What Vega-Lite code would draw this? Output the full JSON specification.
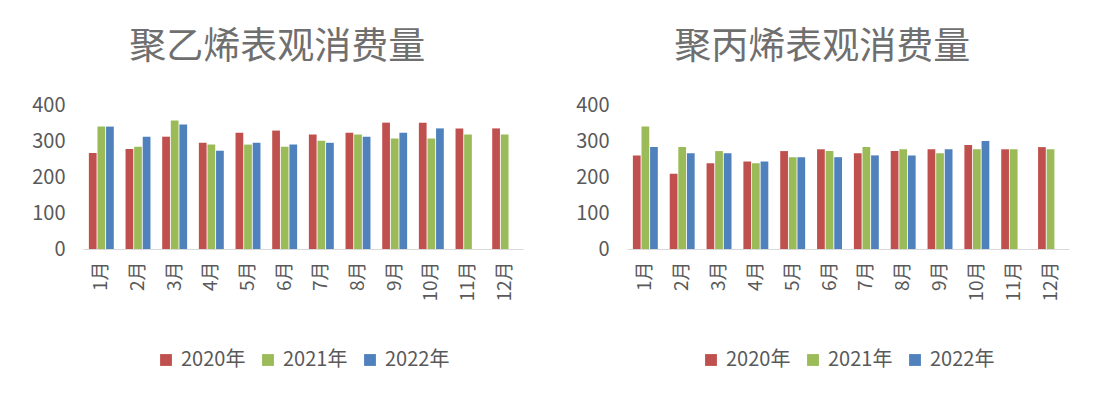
{
  "$schema": "https://vega.github.io/schema/vega-lite/v6.json",
  "padding": {"left": 31, "top": 29, "right": 5, "bottom": 5},
  "background": "white",
  "spacing": 52,
  "config": {
    "font": "Noto Sans CJK SC",
    "view": {"stroke": null},
    "axis": {"labelColor": "#595959", "labelFont": "Noto Sans CJK SC", "labelFontSize": 19, "ticks": false, "grid": false, "title": null},
    "title": {"font": "Noto Sans CJK SC", "fontSize": 37, "fontWeight": "normal", "color": "#6f6f6f", "frame": "bounds", "anchor": "middle", "offset": 28},
    "legend": {"layout": {"bottom": {"anchor": "middle"}}}
  },
  "data": {"values": [
    {"p": "PE", "m": "1月", "y": "2020年", "v": 267}, {"p": "PE", "m": "1月", "y": "2021年", "v": 340}, {"p": "PE", "m": "1月", "y": "2022年", "v": 340},
    {"p": "PE", "m": "2月", "y": "2020年", "v": 278}, {"p": "PE", "m": "2月", "y": "2021年", "v": 284}, {"p": "PE", "m": "2月", "y": "2022年", "v": 312},
    {"p": "PE", "m": "3月", "y": "2020年", "v": 312}, {"p": "PE", "m": "3月", "y": "2021年", "v": 357}, {"p": "PE", "m": "3月", "y": "2022年", "v": 346},
    {"p": "PE", "m": "4月", "y": "2020年", "v": 295}, {"p": "PE", "m": "4月", "y": "2021年", "v": 290}, {"p": "PE", "m": "4月", "y": "2022年", "v": 273},
    {"p": "PE", "m": "5月", "y": "2020年", "v": 323}, {"p": "PE", "m": "5月", "y": "2021年", "v": 290}, {"p": "PE", "m": "5月", "y": "2022年", "v": 295},
    {"p": "PE", "m": "6月", "y": "2020年", "v": 329}, {"p": "PE", "m": "6月", "y": "2021年", "v": 284}, {"p": "PE", "m": "6月", "y": "2022年", "v": 290},
    {"p": "PE", "m": "7月", "y": "2020年", "v": 318}, {"p": "PE", "m": "7月", "y": "2021年", "v": 301}, {"p": "PE", "m": "7月", "y": "2022年", "v": 295},
    {"p": "PE", "m": "8月", "y": "2020年", "v": 323}, {"p": "PE", "m": "8月", "y": "2021年", "v": 318}, {"p": "PE", "m": "8月", "y": "2022年", "v": 312},
    {"p": "PE", "m": "9月", "y": "2020年", "v": 351}, {"p": "PE", "m": "9月", "y": "2021年", "v": 307}, {"p": "PE", "m": "9月", "y": "2022年", "v": 323},
    {"p": "PE", "m": "10月", "y": "2020年", "v": 351}, {"p": "PE", "m": "10月", "y": "2021年", "v": 307}, {"p": "PE", "m": "10月", "y": "2022年", "v": 335},
    {"p": "PE", "m": "11月", "y": "2020年", "v": 335}, {"p": "PE", "m": "11月", "y": "2021年", "v": 318},
    {"p": "PE", "m": "12月", "y": "2020年", "v": 335}, {"p": "PE", "m": "12月", "y": "2021年", "v": 318},
    {"p": "PP", "m": "1月", "y": "2020年", "v": 260}, {"p": "PP", "m": "1月", "y": "2021年", "v": 340}, {"p": "PP", "m": "1月", "y": "2022年", "v": 283},
    {"p": "PP", "m": "2月", "y": "2020年", "v": 209}, {"p": "PP", "m": "2月", "y": "2021年", "v": 283}, {"p": "PP", "m": "2月", "y": "2022年", "v": 266},
    {"p": "PP", "m": "3月", "y": "2020年", "v": 238}, {"p": "PP", "m": "3月", "y": "2021年", "v": 272}, {"p": "PP", "m": "3月", "y": "2022年", "v": 266},
    {"p": "PP", "m": "4月", "y": "2020年", "v": 243}, {"p": "PP", "m": "4月", "y": "2021年", "v": 238}, {"p": "PP", "m": "4月", "y": "2022年", "v": 243},
    {"p": "PP", "m": "5月", "y": "2020年", "v": 272}, {"p": "PP", "m": "5月", "y": "2021年", "v": 255}, {"p": "PP", "m": "5月", "y": "2022年", "v": 255},
    {"p": "PP", "m": "6月", "y": "2020年", "v": 277}, {"p": "PP", "m": "6月", "y": "2021年", "v": 272}, {"p": "PP", "m": "6月", "y": "2022年", "v": 255},
    {"p": "PP", "m": "7月", "y": "2020年", "v": 266}, {"p": "PP", "m": "7月", "y": "2021年", "v": 283}, {"p": "PP", "m": "7月", "y": "2022年", "v": 260},
    {"p": "PP", "m": "8月", "y": "2020年", "v": 272}, {"p": "PP", "m": "8月", "y": "2021年", "v": 277}, {"p": "PP", "m": "8月", "y": "2022年", "v": 260},
    {"p": "PP", "m": "9月", "y": "2020年", "v": 277}, {"p": "PP", "m": "9月", "y": "2021年", "v": 266}, {"p": "PP", "m": "9月", "y": "2022年", "v": 277},
    {"p": "PP", "m": "10月", "y": "2020年", "v": 289}, {"p": "PP", "m": "10月", "y": "2021年", "v": 277}, {"p": "PP", "m": "10月", "y": "2022年", "v": 300},
    {"p": "PP", "m": "11月", "y": "2020年", "v": 277}, {"p": "PP", "m": "11月", "y": "2021年", "v": 277},
    {"p": "PP", "m": "12月", "y": "2020年", "v": 283}, {"p": "PP", "m": "12月", "y": "2021年", "v": 277}
  ]},
  "resolve": {"legend": {"color": "independent"}, "scale": {"color": "independent"}},
  "hconcat": [
    {
      "title": "聚乙烯表观消费量",
      "width": 440,
      "height": 144,
      "transform": [{"filter": "datum.p === 'PE'"}],
      "mark": {"type": "bar"},
      "encoding": {
        "x": {"field": "m", "type": "nominal", "sort": ["1月","2月","3月","4月","5月","6月","7月","8月","9月","10月","11月","12月"], "scale": {"paddingInner": 0.32, "paddingOuter": 0.16}, "axis": {"labelAngle": -90, "domainColor": "#d9d9d9", "labelPadding": 12}},
        "xOffset": {"field": "y", "type": "nominal", "scale": {"domain": ["2020年","2021年","2022年"], "paddingInner": 0.1}},
        "y": {"field": "v", "type": "quantitative", "scale": {"domain": [0, 400]}, "axis": {"values": [0,100,200,300,400], "domain": false, "labelPadding": 18, "labelFontSize": 20}},
        "color": {"field": "y", "type": "nominal", "scale": {"domain": ["2020年","2021年","2022年"], "range": ["#c0504d","#9bbb59","#4f81bd"]}, "legend": {"orient": "bottom", "direction": "horizontal", "title": null, "symbolType": "square", "symbolSize": 140, "labelFontSize": 20, "labelColor": "#595959", "columnPadding": 12, "labelOffset": 5, "offset": 48}}
      }
    },
    {
      "title": "聚丙烯表观消费量",
      "width": 442,
      "height": 144,
      "transform": [{"filter": "datum.p === 'PP'"}],
      "mark": {"type": "bar"},
      "encoding": {
        "x": {"field": "m", "type": "nominal", "sort": ["1月","2月","3月","4月","5月","6月","7月","8月","9月","10月","11月","12月"], "scale": {"paddingInner": 0.32, "paddingOuter": 0.16}, "axis": {"labelAngle": -90, "domainColor": "#d9d9d9", "labelPadding": 12}},
        "xOffset": {"field": "y", "type": "nominal", "scale": {"domain": ["2020年","2021年","2022年"], "paddingInner": 0.1}},
        "y": {"field": "v", "type": "quantitative", "scale": {"domain": [0, 400]}, "axis": {"values": [0,100,200,300,400], "domain": false, "labelPadding": 18, "labelFontSize": 20}},
        "color": {"field": "y", "type": "nominal", "scale": {"domain": ["2020年","2021年","2022年"], "range": ["#c0504d","#9bbb59","#4f81bd"]}, "legend": {"orient": "bottom", "direction": "horizontal", "title": null, "symbolType": "square", "symbolSize": 140, "labelFontSize": 20, "labelColor": "#595959", "columnPadding": 12, "labelOffset": 5, "offset": 48}}
      }
    }
  ]
}
